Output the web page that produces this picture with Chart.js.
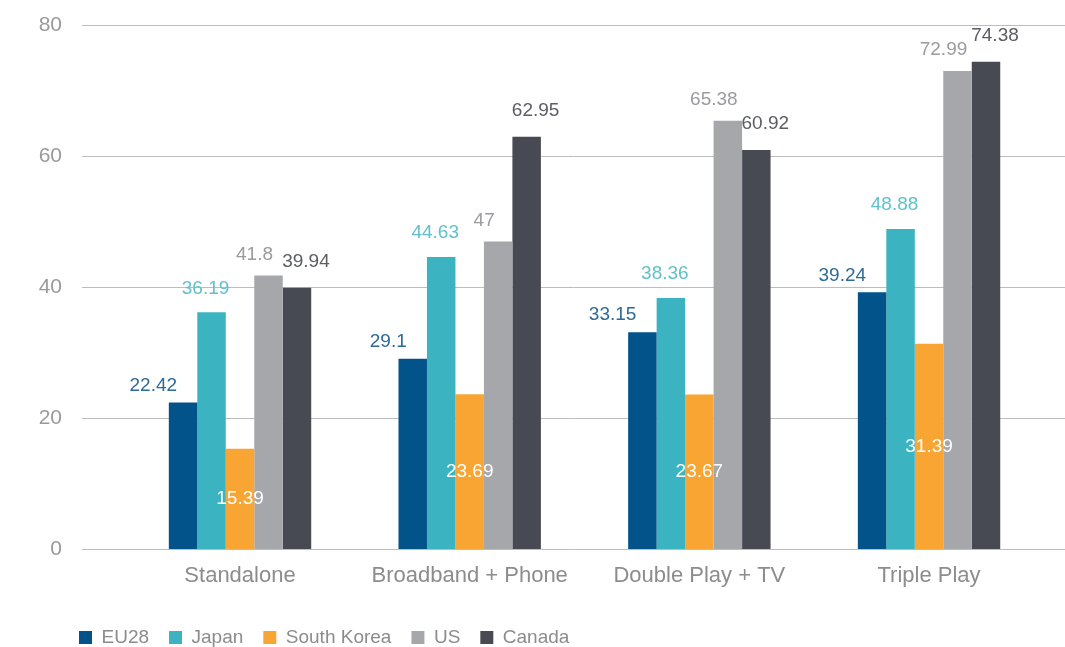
<!DOCTYPE html>
<html>
<head>
<meta charset="utf-8">
<script src="https://cdn.jsdelivr.net/npm/chart.js@4"></script>
<style>
  html, body { margin: 0; padding: 0; background: #fff; overflow: hidden; }
  #wrap { width: 1065px; height: 657px; position: relative; }
</style>
</head>
<body>
<div id="wrap"><canvas id="myChart"></canvas></div>
<script>
  /* DATA */
  const categories = ['Standalone', 'Broadband + Phone', 'Double Play + TV', 'Triple Play'];
  const eu28 = [22.42, 29.1, 33.15, 39.24];
  const japan = [36.19, 44.63, 38.36, 48.88];
  const southKorea = [15.39, 23.69, 23.67, 31.39];
  const us = [41.8, 47, 65.38, 72.99];
  const canada = [39.94, 62.95, 60.92, 74.38];
  const yTicks = [0, 20, 40, 60, 80];

  /* turn a list of values into points on the linear x axis */
  function toPoints(values) {
    return values.map((v, i) => ({ x: i, y: v }));
  }

  /* value labels, each series has its own spot relative to its bar */
  const valueLabels = {
    id: 'valueLabels',
    afterDatasetsDraw(chart, args, opts) {
      const ctx = chart.ctx;
      ctx.save();
      ctx.font = opts.font;
      ctx.textBaseline = 'middle';
      chart.data.datasets.forEach((ds, di) => {
        const meta = chart.getDatasetMeta(di);
        const spot = opts.spots[di];
        meta.data.forEach((bar, i) => {
          const txt = String(ds.data[i].y);
          ctx.fillStyle = spot.color;
          ctx.textAlign = spot.align;
          let y = bar.y + spot.dy;
          if (spot.inside) {
            y = (bar.y + bar.base) / 2 + spot.dy;
          }
          ctx.fillText(txt, bar.x + spot.dx, y);
        });
      });
      ctx.restore();
    }
  };

  /* push the legend a bit to the right, like the original */
  const legendShift = {
    id: 'legendShift',
    afterLayout(chart) {
      if (chart.legend) {
        chart.legend.left += 20;
      }
    }
  };

  function initChart(target) {
    return new Chart(target, {
      type: 'bar',
      data: {
        datasets: [
          { label: 'EU28', data: toPoints(eu28), backgroundColor: '#02538a' },
          { label: 'Japan', data: toPoints(japan), backgroundColor: '#3cb3c1' },
          { label: 'South Korea', data: toPoints(southKorea), backgroundColor: '#f9a533' },
          { label: 'US', data: toPoints(us), backgroundColor: '#a6a7ab' },
          { label: 'Canada', data: toPoints(canada), backgroundColor: '#474a52' }
        ]
      },
      options: {
        responsive: true,
        maintainAspectRatio: false,
        animation: false,
        datasets: {
          bar: { categoryPercentage: 0.62, barPercentage: 1.0, borderWidth: 0 }
        },
        layout: { padding: { left: 39, right: 0, top: 25, bottom: 0 } },
        scales: {
          x: {
            type: 'linear',
            min: -0.688,
            max: 3.592,
            offset: false,
            grid: { display: false, drawTicks: false },
            border: { display: false },
            afterBuildTicks(scale) {
              scale.ticks = categories.map((c, i) => ({ value: i }));
            },
            afterFit(scale) {
              scale.height += 6;
              scale.paddingLeft = 0;
              scale.paddingRight = 0;
            },
            ticks: {
              padding: 13,
              maxRotation: 0,
              autoSkip: false,
              color: '#8c8c8c',
              font: { family: 'Liberation Sans', size: 22 },
              callback: (value) => categories[value]
            }
          },
          y: {
            min: 0,
            max: 80,
            grid: { color: '#bdbdbd', lineWidth: 1, drawTicks: false },
            border: { display: false },
            afterBuildTicks(scale) {
              scale.ticks = yTicks.map((v) => ({ value: v }));
            },
            afterFit(scale) {
              scale.width = 43;
              scale.paddingTop = 0;
              scale.paddingBottom = 0;
            },
            ticks: {
              padding: 20,
              color: '#9a9a9a',
              font: { family: 'Liberation Sans', size: 21 }
            }
          }
        },
        plugins: {
          tooltip: { enabled: false },
          legend: {
            position: 'bottom',
            align: 'start',
            labels: {
              boxWidth: 13,
              boxHeight: 13,
              padding: 20,
              color: '#8c8c8c',
              font: { family: 'Liberation Sans', size: 19 }
            }
          },
          valueLabels: {
            font: '19px "Liberation Sans"',
            spots: [
              { color: '#2d6a98', align: 'right', dx: -6, dy: -17 },
              { color: '#62c0cb', align: 'center', dx: -6, dy: -24 },
              { color: '#ffffff', align: 'center', dx: 0, dy: 0, inside: true },
              { color: '#9a9b9f', align: 'center', dx: -14, dy: -21 },
              { color: '#5b5d63', align: 'center', dx: 9, dy: -26 }
            ]
          }
        }
      },
      plugins: [valueLabels, legendShift]
    });
  }

  document.addEventListener('DOMContentLoaded', () => {
    initChart(document.querySelector('#myChart'));
  });
</script>
</body>
</html>
